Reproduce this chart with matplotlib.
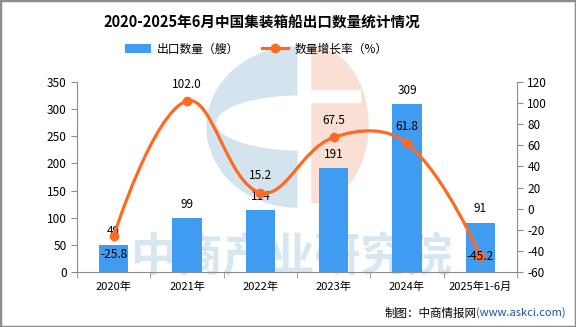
import matplotlib.pyplot as plt
import numpy as np
from matplotlib.lines import Line2D
from matplotlib.patches import Ellipse, Patch, PathPatch, Rectangle, Wedge
from matplotlib.path import Path
from matplotlib.transforms import Affine2D

plt.rcParams["font.family"] = ["Noto Sans CJK SC", "DejaVu Sans"]
plt.rcParams["axes.unicode_minus"] = False

# Data
categories = ["2020年", "2021年", "2022年", "2023年", "2024年", "2025年1-6月"]
export_ships = [49, 99, 114, 191, 309, 91]
growth_rate = [-25.8, 102.0, 15.2, 67.5, 61.8, -45.2]

BAR = "#3f9cf0"
LINE = "#ff6a22"
GRAY = "#8c8c8c"
W, H = 576, 327


def smooth_path(ax, xs, ys, smooth=0.4):
    # bezier through the points, control points worked out in pixel space
    pts = ax.transData.transform(np.column_stack([xs, ys]))
    n = len(pts)
    cps = []
    for i in range(n):
        if i == 0 or i == n - 1:
            cps.append((pts[i], pts[i]))
            continue
        v = (pts[i + 1] - pts[i - 1]) * smooth
        d0 = np.hypot(*(pts[i] - pts[i - 1]))
        d1 = np.hypot(*(pts[i + 1] - pts[i]))
        cps.append((pts[i] - v * d0 / (d0 + d1), pts[i] + v * d1 / (d0 + d1)))
    verts = [pts[0]]
    codes = [Path.MOVETO]
    for i in range(n - 1):
        verts += [cps[i][1], cps[i + 1][0], pts[i + 1]]
        codes += [Path.CURVE4] * 3
    verts = ax.transData.inverted().transform(np.array(verts))
    return Path(verts, codes)


fig = plt.figure(figsize=(W / 100, H / 100), dpi=100)
px = Affine2D().scale(1 / W, -1 / H).translate(0, 1) + fig.transFigure

# watermark logo + text, behind the axes
fig.patches.append(Wedge((0, 0), 1, 90, 270, color="#d4e4ee", zorder=-2,
                         transform=Affine2D().scale(90, 80).translate(297, 127) + px))
fig.patches.append(Ellipse((302, 123), 170, 54, color="white", zorder=-2, transform=px))
fig.patches.append(Wedge((0, 0), 1, -90, 90, color="#fae0d4", zorder=-2,
                         transform=Affine2D().scale(56, 78).translate(312, 125) + px))
fig.patches.append(Rectangle((310, 90), 50, 12, color="white", zorder=-2, transform=px))
fig.text(292 / W, 1 - 258 / H, "中商产业研究院", fontsize=33, fontweight="heavy",
         color="#d6e7f1", ha="center", va="center", zorder=-1)

ax = fig.add_axes([77 / W, 55 / H, 440 / W, 190 / H])
ax.set_facecolor("none")
x = np.arange(len(categories))
ax.bar(x, export_ships, width=0.4, color=BAR, zorder=2)
ax.set_xlim(-0.5, len(categories) - 0.5)
ax.set_ylim(0, 350)
ax.set_yticks(range(0, 351, 50))
ax.set_xticks(x, categories)
ax.set_xticks(np.arange(-0.5, len(categories), 1), minor=True)
ax.tick_params(axis="x", which="major", length=0, pad=7, labelsize=8)
ax.tick_params(axis="x", which="minor", length=4, color=GRAY)
ax.tick_params(axis="y", length=4, color=GRAY, labelsize=8.5)
for side in ["top", "right"]:
    ax.spines[side].set_visible(False)
for side in ["left", "bottom"]:
    ax.spines[side].set_color(GRAY)

for xi, v in zip(x, export_ships):
    ax.annotate(str(v), (xi, v), xytext=(0, 10), textcoords="offset points",
                ha="center", va="center", fontsize=8.5)

ax2 = ax.twinx()
ax2.set_ylim(-60, 120)
ax2.set_yticks(range(-60, 121, 20))
ax2.tick_params(axis="y", length=4, color=GRAY, labelsize=8.5)
for side in ["top", "left", "bottom"]:
    ax2.spines[side].set_visible(False)
ax2.spines["right"].set_color(GRAY)

ax2.add_patch(PathPatch(smooth_path(ax2, x, growth_rate), fill=False,
                        edgecolor=LINE, lw=2.3, zorder=3))
ax2.plot(x, growth_rate, "o", color=LINE, ms=6, zorder=4)

label_dy = [-13.5, 12, 12, 12, 12, 0]
for xi, v, dy in zip(x, growth_rate, label_dy):
    ax2.annotate(f"{v:.1f}", (xi, v), xytext=(0, dy), textcoords="offset points",
                 ha="center", va="center", fontsize=8.5, zorder=5)

# title, legend, source
fig.text(262 / W, 1 - 23 / H, "2020-2025年6月中国集装箱船出口数量统计情况",
         fontsize=10.5, fontweight="bold", ha="center", va="center")

handles = [
    Patch(facecolor=BAR, edgecolor="none"),
    Line2D([], [], color=LINE, lw=2.3, marker="o", ms=6),
]
fig.legend(handles, ["出口数量（艘）", "数量增长率（%）"], loc="center",
           bbox_to_anchor=(256 / W, 1 - 49 / H), ncol=2, frameon=False,
           fontsize=8.5, handlelength=2.2, handleheight=0.7,
           handletextpad=0.5, columnspacing=2.0)

src = fig.text(566 / W, 1 - 313 / H, "(www.askci.com)", color="#1e50a2",
               fontsize=8, ha="right", va="center")
ax.annotate("制图：中商情报网", xy=(0, 0.5), xycoords=src, ha="right",
            va="center", fontsize=8.3, annotation_clip=False)

fig.patches.append(Rectangle((0, 0), 1, 1, transform=fig.transFigure, fill=False,
                             edgecolor=GRAY, lw=2.5, zorder=10))

fig.savefig("out.png", dpi=100)
